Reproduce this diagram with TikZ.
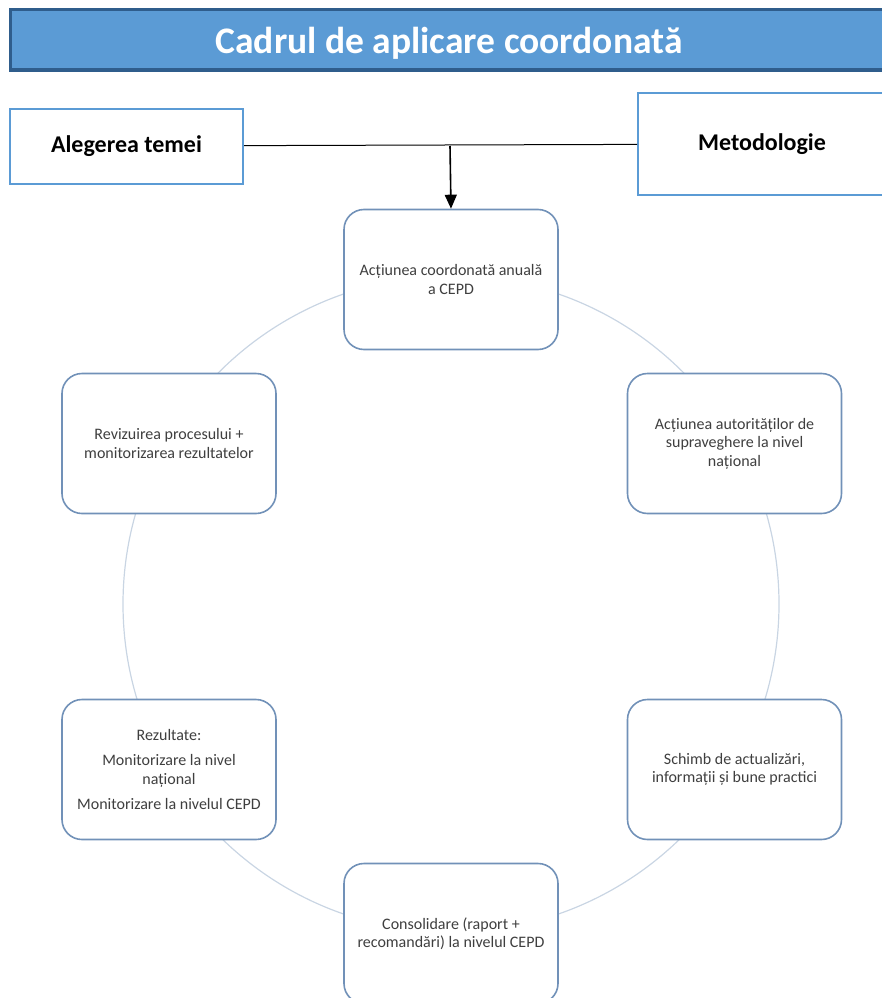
\documentclass[tikz,border=0pt]{standalone}
\usepackage{fontspec}
\setmainfont{Carlito}
\usetikzlibrary{arrows.meta, positioning}
\definecolor{titlefill}{HTML}{5B9BD5}
\definecolor{titleedge}{HTML}{2F5D8C}
\definecolor{topedge}{HTML}{5B9BD5}
\definecolor{cycleedge}{HTML}{7191B8}
\definecolor{ringline}{HTML}{C9D5E3}
\definecolor{cycletext}{HTML}{3F3F3F}

\begin{document}
\begin{tikzpicture}[
                x=1pt, y=-1pt,
                titlebar/.style={draw=titleedge, line width=3pt, fill=titlefill, minimum width=878pt, minimum height=60pt, text height=28pt, text depth=0pt, text=white, font=\fontsize{37.5}{40}\selectfont\bfseries},
                topbox/.style={draw=topedge, line width=2pt, fill=white, font=\fontsize{24}{28}\selectfont\bfseries},
                cyclebox/.style={draw=cycleedge, line width=1.6pt, rounded corners=20pt, fill=white, minimum width=214pt, minimum height=140pt, align=center, text=cycletext, font=\fontsize{16}{18.5}\selectfont}
            ]
                \useasboundingbox (0,0) rectangle (882,998);
                \clip (0,0) rectangle (882,998);

                \node[titlebar] (title) at (449,40) {Cadrul de aplicare coordonată};
                \node[topbox, minimum width=233pt, minimum height=75pt] (alegere) at (126.5,146) {\raisebox{-2pt}{Alegerea temei}};
                \node[topbox, minimum width=248pt, minimum height=102pt] (metod) at (762,144) {\raisebox{-3pt}{Metodologie}};

                % the ring behind the cycle
                \draw[ringline, line width=1.2pt] (451,604) circle[radius=328pt];

                \node[cyclebox] (actiune) at (451,279.5) {Acțiunea coordonată anuală\\ a CEPD};
                \node[cyclebox] (autoritati) at (734.5,443.5) {Acțiunea autorităților de\\ supraveghere la nivel\\ național};
                \node[cyclebox] (schimb) at (734.5,769.5) {Schimb de actualizări,\\ informații și bune practici};
                \node[cyclebox] (consolidare) at (451,933.5) {Consolidare (raport +\\ recomandări) la nivelul CEPD};
                \node[cyclebox] (rezultate) at (169,769.5) {Rezultate:\\[7pt] Monitorizare la nivel\\ național\\[7pt] Monitorizare la nivelul CEPD};
                \node[cyclebox] (revizuire) at (169,443.5) {Revizuirea procesului +\\ monitorizarea rezultatelor};

                \coordinate (split) at (450,146);
                \draw[line width=1pt] (alegere) -- (metod);
                \draw[-{Triangle[width=12pt, length=14pt]}, line width=1.6pt] (split) -- (actiune.north);
            \end{tikzpicture}
\end{document}
